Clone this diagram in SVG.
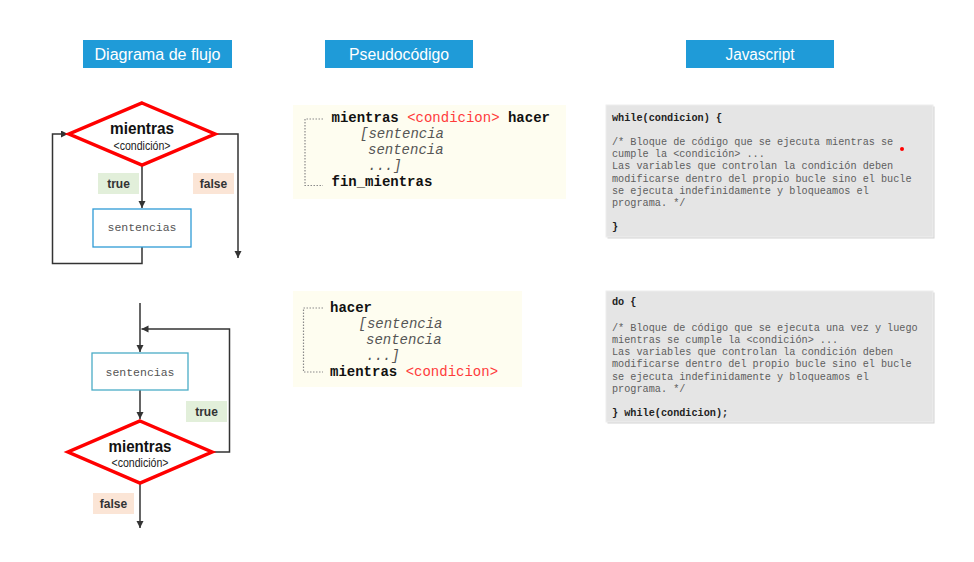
<svg xmlns="http://www.w3.org/2000/svg" width="974" height="562" viewBox="0 0 974 562">
<style>
.hdr{fill:#1f9bd8}
.hdrt{font-family:"Liberation Sans",Arial,sans-serif;font-size:16px;fill:#fff;text-anchor:middle}
.dia{fill:#fff;stroke:#ff0000;stroke-width:3.5;stroke-linejoin:miter}
.mt{font-family:"Liberation Sans",Arial,sans-serif;font-weight:bold;font-size:17px;fill:#111;text-anchor:middle}
.ct{font-family:"Liberation Sans",Arial,sans-serif;font-size:12px;fill:#222;text-anchor:middle}
.box{fill:#fff;stroke-width:1.3}
.st{font-family:"Liberation Mono","Courier New",monospace;font-size:11.5px;fill:#555;text-anchor:middle}
.lbl{font-family:"Liberation Sans",Arial,sans-serif;font-weight:bold;font-size:12px;fill:#333;text-anchor:middle}
.tbg{fill:#e2efda}
.fbg{fill:#fbe5d6}
.con{fill:none;stroke:#333;stroke-width:1.5}
.pbg{fill:#fefdf0}
.pc{font-family:"Liberation Mono","Courier New",monospace;font-size:14px;fill:#111}
.b{font-weight:bold;fill:#111}
.red{fill:#ff3b3b}
.it{font-style:italic;fill:#555}
.brk{fill:none;stroke:#8a8a8a;stroke-width:1.2;stroke-dasharray:1.5 1.5}
.jbg{fill:#e5e5e5;stroke:#eeeeee;stroke-width:1}
.jsh{fill:#d4d4d4}
.js{font-family:"Liberation Mono","Courier New",monospace;font-size:10.2px;fill:#5e5e5e}
.jb{font-weight:bold;fill:#222}
</style>
<defs>
<marker id="arr" markerUnits="userSpaceOnUse" markerWidth="8" markerHeight="8" refX="7" refY="3.5" orient="auto">
<path d="M0,0 L7,3.5 L0,7 z" fill="#333"/>
</marker>
</defs>
<rect width="974" height="562" fill="#fff"/>

<g id="headers">
<g id="h-diagrama"><rect class="hdr" x="83" y="40" width="149" height="28"/><text class="hdrt" x="157.5" y="59.5" textLength="126" lengthAdjust="spacingAndGlyphs">Diagrama de flujo</text></g>
<g id="h-pseudo"><rect class="hdr" x="325" y="40" width="148" height="28"/><text class="hdrt" x="399" y="59.5" textLength="100" lengthAdjust="spacingAndGlyphs">Pseudocódigo</text></g>
<g id="h-js"><rect class="hdr" x="686" y="40" width="148" height="28"/><text class="hdrt" x="760" y="59.5" textLength="69" lengthAdjust="spacingAndGlyphs">Javascript</text></g>
</g>

<g id="connectors">
<path class="con" d="M142 166 V208" marker-end="url(#arr)"/>
<path class="con" d="M142 247 V263.5 H52.5 V134 H68" marker-end="url(#arr)"/>
<path class="con" d="M216 134 H238 V258" marker-end="url(#arr)"/>
<path class="con" d="M140 303 V352" marker-end="url(#arr)"/>
<path class="con" d="M140 390 V419" marker-end="url(#arr)"/>
<path class="con" d="M213 452 H229.5 V329 H141.5" marker-end="url(#arr)"/>
<path class="con" d="M140 484 V528" marker-end="url(#arr)"/>
</g>

<g id="while-decision">
<polygon class="dia" points="142,103 215,134 142,165 69,134"/>
<text class="mt" x="142" y="134" textLength="64" lengthAdjust="spacingAndGlyphs">mientras</text>
<text class="ct" x="142" y="149.5" textLength="57" lengthAdjust="spacingAndGlyphs">&lt;condición&gt;</text>
</g>
<g id="while-true"><rect class="tbg" x="98" y="173" width="41" height="21"/><text class="lbl" x="118.5" y="188">true</text></g>
<g id="while-false"><rect class="fbg" x="193" y="173" width="41" height="21"/><text class="lbl" x="213.5" y="188">false</text></g>
<g id="while-body"><rect class="box" x="93" y="209" width="98" height="38" stroke="#2e9bd6"/><text class="st" x="142" y="231">sentencias</text></g>

<g id="do-body"><rect class="box" x="92" y="353" width="96" height="37" stroke="#4bacc6"/><text class="st" x="140" y="375.5">sentencias</text></g>
<g id="do-decision">
<polygon class="dia" points="140,421 212,452 140,483 68,452"/>
<text class="mt" x="140" y="451.5" textLength="63" lengthAdjust="spacingAndGlyphs">mientras</text>
<text class="ct" x="140" y="467" textLength="57" lengthAdjust="spacingAndGlyphs">&lt;condición&gt;</text>
</g>
<g id="do-true"><rect class="tbg" x="186" y="401" width="41" height="21"/><text class="lbl" x="206.5" y="416">true</text></g>
<g id="do-false"><rect class="fbg" x="93" y="493" width="41" height="21"/><text class="lbl" x="113.5" y="508">false</text></g>

<g id="pseudo-while">
<rect class="pbg" x="293" y="105" width="273" height="94"/>
<path class="brk" d="M323 119 H305 V185.5 H323"/>
<text class="pc" x="331.5" y="122"><tspan class="b">mientras</tspan> <tspan class="red">&lt;condicion&gt;</tspan> <tspan class="b">hacer</tspan></text>
<text class="pc it" x="360" y="138">[sentencia</text>
<text class="pc it" x="368" y="154">sentencia</text>
<text class="pc it" x="368" y="170">...]</text>
<text class="pc b" x="331.5" y="186">fin_mientras</text>
</g>

<g id="pseudo-do">
<rect class="pbg" x="293" y="291" width="229" height="96"/>
<path class="brk" d="M323 308 H303.5 V372 H323"/>
<text class="pc b" x="330" y="312">hacer</text>
<text class="pc it" x="358.5" y="328">[sentencia</text>
<text class="pc it" x="366" y="344">sentencia</text>
<text class="pc it" x="366" y="360">...]</text>
<text class="pc" x="330" y="376"><tspan class="b">mientras</tspan> <tspan class="red">&lt;condicion&gt;</tspan></text>
</g>

<g id="js-while">
<rect class="jsh" x="607.5" y="106.5" width="327" height="132"/>
<rect class="jbg" x="606" y="105" width="327" height="132"/>
<text class="js jb" x="612" y="120.5">while(condicion) {</text>
<text class="js" x="612" y="144.9">/* Bloque de código que se ejecuta mientras se</text>
<text class="js" x="612" y="157.1">cumple la &lt;condición&gt; ...</text>
<text class="js" x="612" y="169.3">Las variables que controlan la condición deben</text>
<text class="js" x="612" y="181.5">modificarse dentro del propio bucle sino el bucle</text>
<text class="js" x="612" y="193.7">se ejecuta indefinidamente y bloqueamos el</text>
<text class="js" x="612" y="205.9">programa. */</text>
<text class="js jb" x="612" y="230.3">}</text>
<circle cx="902" cy="149" r="2" fill="#ff0000"/>
</g>

<g id="js-do">
<rect class="jsh" x="607.5" y="292.5" width="327" height="131"/>
<rect class="jbg" x="606" y="291" width="327" height="131"/>
<text class="js jb" x="612" y="305.2">do {</text>
<text class="js" x="612" y="330.8">/* Bloque de código que se ejecuta una vez y luego</text>
<text class="js" x="612" y="343">mientras se cumple la &lt;condición&gt; ...</text>
<text class="js" x="612" y="355.2">Las variables que controlan la condición deben</text>
<text class="js" x="612" y="367.4">modificarse dentro del propio bucle sino el bucle</text>
<text class="js" x="612" y="379.6">se ejecuta indefinidamente y bloqueamos el</text>
<text class="js" x="612" y="391.8">programa. */</text>
<text class="js jb" x="612" y="416.2">} while(condicion);</text>
</g>
</svg>
